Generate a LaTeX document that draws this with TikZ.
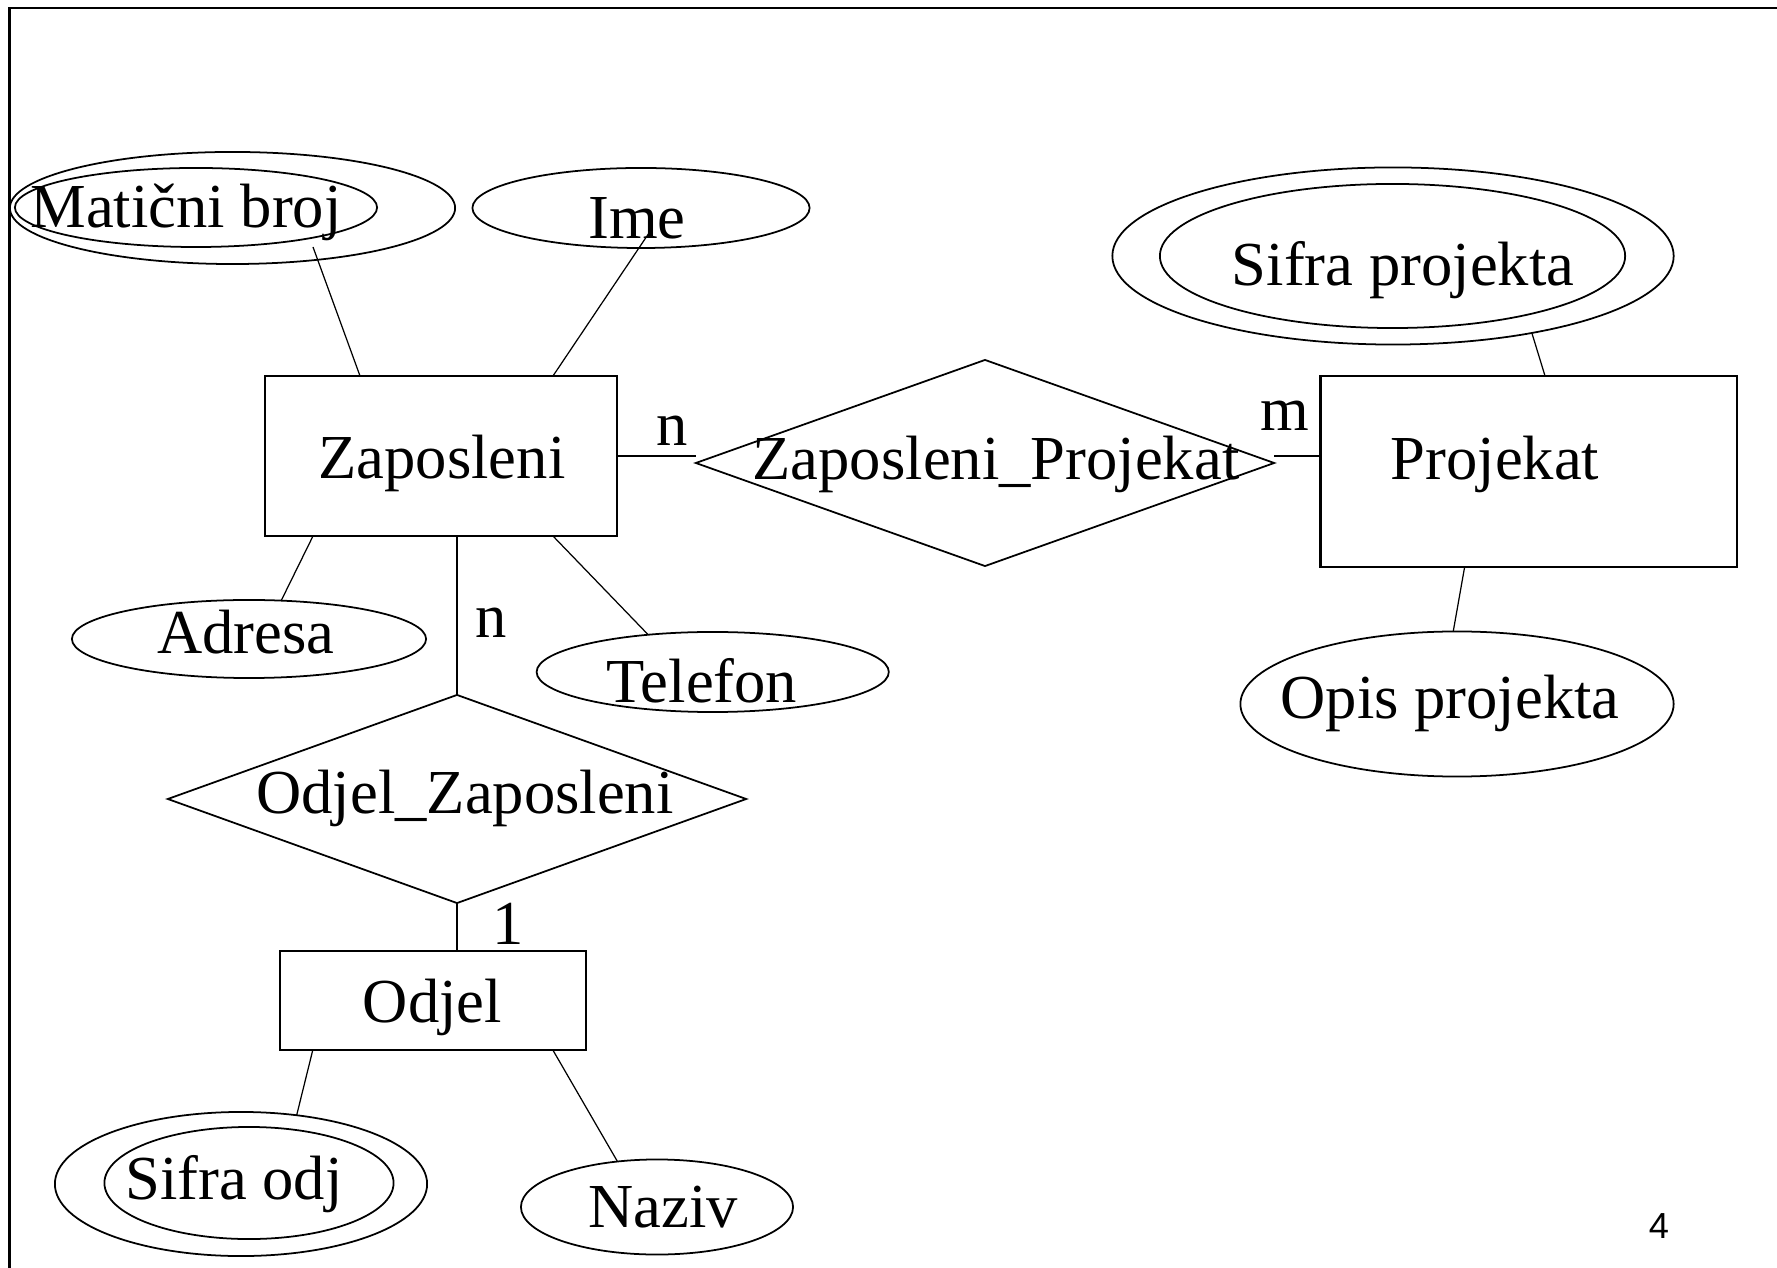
\documentclass[tikz,border=0pt]{standalone}
\usepackage{fontspec}
\setmainfont{Liberation Serif}
\newfontfamily\pagefont{Liberation Sans}
\usetikzlibrary{shapes.geometric,calc}

\begin{document}
\begin{tikzpicture}[
    x=0.01cm, y=-0.01cm,
    every node/.style={inner sep=0pt, outer sep=0pt}
]

\tikzset{
  ent/.style 2 args={draw, rectangle, line width=0.6pt, minimum width=#1, minimum height=#2},
  attr/.style 2 args={draw, ellipse, line width=0.5pt, minimum width=#1, minimum height=#2},
  rel/.style 2 args={draw, diamond, line width=0.5pt, minimum width=#1, minimum height=#2},
  lbl/.style={anchor=base, font=\fontsize{17.8}{20}\selectfont},
  conn/.style={line width=0.35pt}
}

\useasboundingbox (0,0) rectangle (1777,1268);

% ================= okvir slajda =================
\draw[line width=0.65pt] (9.5,1268) -- (9.5,8) -- (1777,8);

% ================= Zaposleni =================

\node[ent={3.52cm}{1.60cm}]   (zap)  at (441,456)    {};
\node[lbl]                    (zapT) at (442,478.6)  {Zaposleni};

\node[attr={4.45cm}{1.12cm}]  (mb)   at (232.5,208)  {};
\node[attr={3.62cm}{0.79cm}]  (mbin) at (196,207.5)  {};
\node[lbl]                    (mbT)  at (186,228)    {Matični broj};

\node[attr={3.37cm}{0.80cm}]  (ime)  at (641,208)    {};
\node[lbl]                    (imeT) at (637,239)    {Ime};

\node[attr={3.54cm}{0.78cm}]  (adr)  at (249,639)    {};
\node[lbl]                    (adrT) at (246,654)    {Adresa};

\node[attr={3.52cm}{0.80cm}]  (tel)  at (712.7,672)  {};
\node[lbl]                    (telT) at (702,702.5)  {Telefon};

\draw[conn] ($(mb.center)+(80.5,39)$) -- ($(zap.north)+(-81,0)$);
\draw[conn] ($(ime.center)+(8,25)$)   -- ($(zap.north)+(112,0)$);
\draw[conn] ($(zap.south)+(-128,0)$)  -- (adr.50);
\draw[conn] ($(zap.south)+(112,0)$)   -- (tel.150);

% ================= Zaposleni_Projekat =================

\node[rel={5.78cm}{2.06cm}]   (zp)   at (985,463)    {};
\node[lbl]                    (zpT)  at (996,480)    {Zaposleni\_Projekat};

\node[ent={4.16cm}{1.91cm}]   (proj) at (1528.6,471.5) {};
\node[lbl]                    (projT) at (1495,480)  {Projekat};

\draw[conn] (zap.east) -- (zap.east -| zp.west);
\draw[conn] (zap.east -| zp.east) -- (zap.east -| proj.west);

\node[lbl] (kN1) at (672,446)  {n};
\node[lbl] (kM)  at (1285,431) {m};

% ================= atributi projekta =================

\node[attr={5.61cm}{1.77cm}]  (sp)   at (1393,256)   {};
\node[attr={4.65cm}{1.44cm}]  (spin) at (1392.5,256) {};
\node[lbl]                    (spT)  at (1403,286)   {Sifra projekta};

\node[attr={4.33cm}{1.45cm}]  (opis) at (1457,704)   {};
\node[lbl]                    (opisT) at (1450,719)  {Opis projekta};

\draw[conn] (sp.-29.6) -- ($(proj.north)+(16.4,0)$);
\draw[conn] ($(proj.south)+(-64,0)$) -- (opis.93);

% ================= Odjel_Zaposleni =================

\node[rel={5.78cm}{2.08cm}]   (oz)   at (457,799)    {};
\node[lbl]                    (ozT)  at (465,814)    {Odjel\_Zaposleni};

\node[ent={3.055cm}{0.99cm}]  (odj)  at (432.8,1000.4) {};
\node[lbl]                    (odjT) at (432.5,1022.8) {Odjel};

\draw[conn] (oz.north |- zap.south) -- (oz.north);
\draw[conn] (oz.south) -- (oz.south |- odj.north);

\node[lbl] (kN2) at (491,637.5) {n};
\node[lbl] (k1)  at (508,944)   {1};

% ================= atributi odjela =================

\node[attr={3.72cm}{1.44cm}]  (so)   at (241,1184)   {};
\node[attr={2.89cm}{1.12cm}]  (soin) at (249,1183)   {};
\node[lbl]                    (soT)  at (234,1199)   {Sifra odj};

\node[attr={2.72cm}{0.95cm}]  (naz)  at (657,1207)   {};
\node[lbl]                    (nazT) at (663,1227)   {Naziv};

\draw[conn] ($(odj.south)+(-120,0)$) -- (so.51);
\draw[conn] ($(odj.south)+(120,0)$)  -- (naz.131);

% broj slajda
\node[anchor=base, font=\pagefont\fontsize{10.3}{12}\selectfont] (page) at (1659,1238) {4};

\end{tikzpicture}
\end{document}
